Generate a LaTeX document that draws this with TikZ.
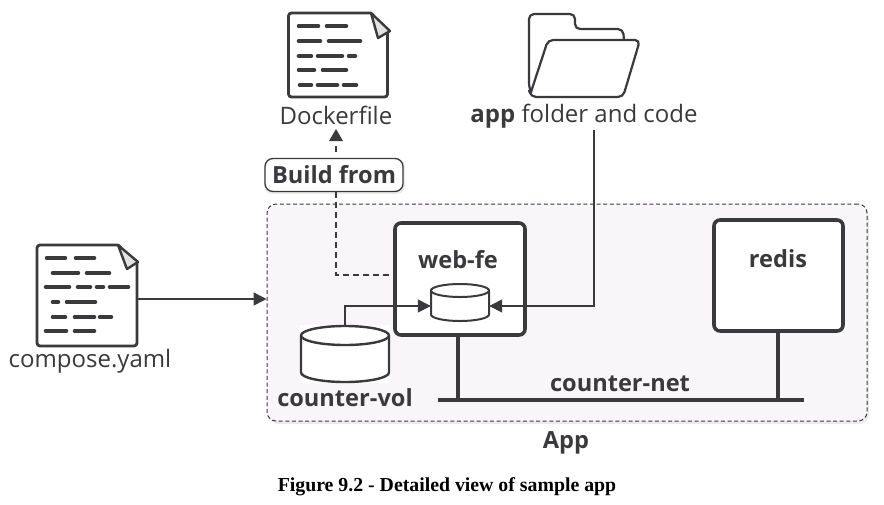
\documentclass[tikz,border=0pt]{standalone}
\usepackage{fontspec}
\setmainfont{Open Sans}
\newfontfamily\capfont{Liberation Serif}
\usetikzlibrary{arrows.meta,calc}
\definecolor{ink}{HTML}{3A3A3C}
\definecolor{panel}{HTML}{F8F6F8}
\definecolor{foldc}{HTML}{E4E1E2}
\newcommand{\codeseg}[3]{\draw[codeline] (#1,#3) -- (#2,#3);}
\newcommand{\cylshape}[6]{% left right top bottom ry lw
  \draw[ink,line width=#6,fill=white]
    (#1,#3+#5) -- (#1,#4-#5) arc[start angle=180,end angle=0,x radius={(#2-#1)/2},y radius=#5]
    -- (#2,#3+#5) arc[start angle=0,end angle=-180,x radius={(#2-#1)/2},y radius=#5] -- cycle;
  \draw[ink,line width=#6] (#1,#3+#5) arc[start angle=180,end angle=0,x radius={(#2-#1)/2},y radius=#5];
}
\tikzset{
  x=1pt,y=-1pt,
  codeline/.style={ink,line width=4.6pt,line cap=round},
  label/.style={text=ink,inner sep=0pt,font=\fontsize{24}{28}\selectfont},
  boldlabel/.style={text=ink,inner sep=0pt,font=\fontsize{23.6}{28}\selectfont\bfseries},
  filebox/.style={draw=ink,line width=2.8pt,rounded corners=3pt,fill=white,inner sep=0pt},
  foldtri/.style={draw=ink,line width=2.4pt,fill=foldc,line join=round},
  svc/.style={draw=ink,line width=3.6pt,rounded corners=6pt,fill=white,inner sep=0pt},
  conn/.style={ink,line width=1.5pt,-{Stealth[length=13pt,width=13pt,inset=0pt]}},
  dashconn/.style={ink,line width=1.6pt,dash pattern=on 6pt off 4pt},
  net/.style={ink,line width=3.6pt},
  folderl/.style={ink,line width=2.2pt,line join=round},
}
\begin{document}
\begin{tikzpicture}
\useasboundingbox (0,0) rectangle (884,504);
\fill[white] (0,0) rectangle (884,504);
% App panel
\fill[black!8,rounded corners=10pt] (269,207) rectangle (869,424);
\node[draw=ink,fill=panel,line width=1pt,dash pattern=on 4pt off 2.6pt,rounded corners=9pt,inner sep=0pt,
  minimum width=600pt,minimum height=217pt] (app) at (567,312.5) {};
\node[boldlabel] (applabel) at (566,442.5) {App};
% Dockerfile
\node[filebox,minimum width=99pt,minimum height=84pt] (dockerfile) at (338,55) {};
\fill[white] (371,11) -- (390,11) -- (390,31) -- cycle;
\draw[foldtri] (371,13) -- (390,31) -- (378,38) -- cycle;
\codeseg{299}{318}{26}\codeseg{327}{346}{26}
\codeseg{299}{320}{41}\codeseg{329}{360}{41}
\codeseg{299}{311}{56}\codeseg{318}{342}{56}\codeseg{349}{355}{56}
\codeseg{299}{314}{70}\codeseg{323}{346}{70}
\codeseg{300}{311}{85}\codeseg{318}{337}{85}\codeseg{344}{356}{85}
\node[label] (dockerlabel) at (336,115) {Dockerfile};
% compose file
\node[filebox,minimum width=100pt,minimum height=101pt] (compose) at (87,295.5) {};
\fill[white] (118,243) -- (140,243) -- (140,262) -- cycle;
\draw[foldtri] (118,245) -- (138,262) -- (127,269) -- cycle;
\codeseg{47}{65}{258}\codeseg{76}{94}{258}
\codeseg{53}{78}{273}\codeseg{87}{109}{273}
\codeseg{46}{69}{287}\codeseg{78}{90}{287}\codeseg{97}{103}{287}\codeseg{110}{128}{287}
\codeseg{53}{58}{302}\codeseg{67}{95}{302}
\codeseg{53}{65}{317}\codeseg{75}{94}{317}\codeseg{100}{111}{317}
\codeseg{46}{66}{331}\codeseg{75}{94}{331}
\node[label] (composelabel) at (90,361.5) {compose.yaml};
\draw[conn] (compose.east |- 0,299) -- (app.west |- 0,299);
% Folder
\draw[folderl,rounded corners=5pt] (531,92) -- (529,88) -- (529,14) -- (575,14) -- (575,29) -- (623,29) -- (624,40);
\draw[folderl,rounded corners=5pt] (529,90) -- (531,97) -- (623,97) -- (640,40) -- (548,40) -- (531,92);
\node[label] (applab) at (584,116.5) {\textbf{app} folder and code};
% services
\node[svc,minimum width=130pt,minimum height=112pt] (webfe) at (460,279) {};
\node[svc,minimum width=129pt,minimum height=111pt] (redis) at (778.5,275.5) {};
\node[boldlabel] (webfelabel) at (458,259.5) {web-fe};
\node[boldlabel] (redislabel) at (778,259) {redis};
% small volume
\cylshape{431}{489}{284}{321}{6.5}{2pt}
\node[minimum width=58pt,minimum height=37pt,inner sep=0pt] (smallcyl) at (460,302.5) {};
% large volume
\fill[white] (300,325) rectangle (390,383);
\cylshape{301}{389}{326}{382}{9.5}{2.4pt}
\node[minimum width=88pt,minimum height=56pt,inner sep=0pt] (bigcyl) at (345,354) {};
\node[boldlabel] (vollabel) at (345,397.5) {counter-vol};
% Build from
\fill[black!8,rounded corners=8pt] (264,160) rectangle (405,194);
\node[draw=ink,fill=white,line width=1.3pt,rounded corners=8pt,inner sep=0pt,
  minimum width=138pt,minimum height=33pt,boldlabel] (build) at (334,175) {Build from};
% connectors
\coordinate (dockend) at (336,129);
\coordinate (dashturn) at (336,275);
\draw[ink,line width=1.6pt] (336,146) -- (336,152);
\fill[ink] (dockend) -- (343,141) -- (329,141) -- cycle;
\draw[dashconn] (336,192) -- (dashturn) -- (webfe.west |- dashturn);
\draw[conn] (bigcyl.north) -- (345,306) -- (smallcyl.west |- 0,306);
\draw[conn] (594,130) -- (594,306) -- (smallcyl.east |- 0,306);
% network
\coordinate (netl) at (438,400);
\coordinate (netr) at (804,400);
\draw[net] (netl) -- (netr);
\draw[net] (webfe.south -| 458,0) -- (458,400);
\draw[net] (redis.south -| 778,0) -- (778,400);
\node[boldlabel] (netlabel) at (620,384) {counter-net};
% caption
\node[inner sep=0pt,text=black,font=\capfont\bfseries\fontsize{19.8}{22}\selectfont] (caption) at (447,486.5) {Figure 9.2 - Detailed view of sample app};
\end{tikzpicture}
\end{document}
